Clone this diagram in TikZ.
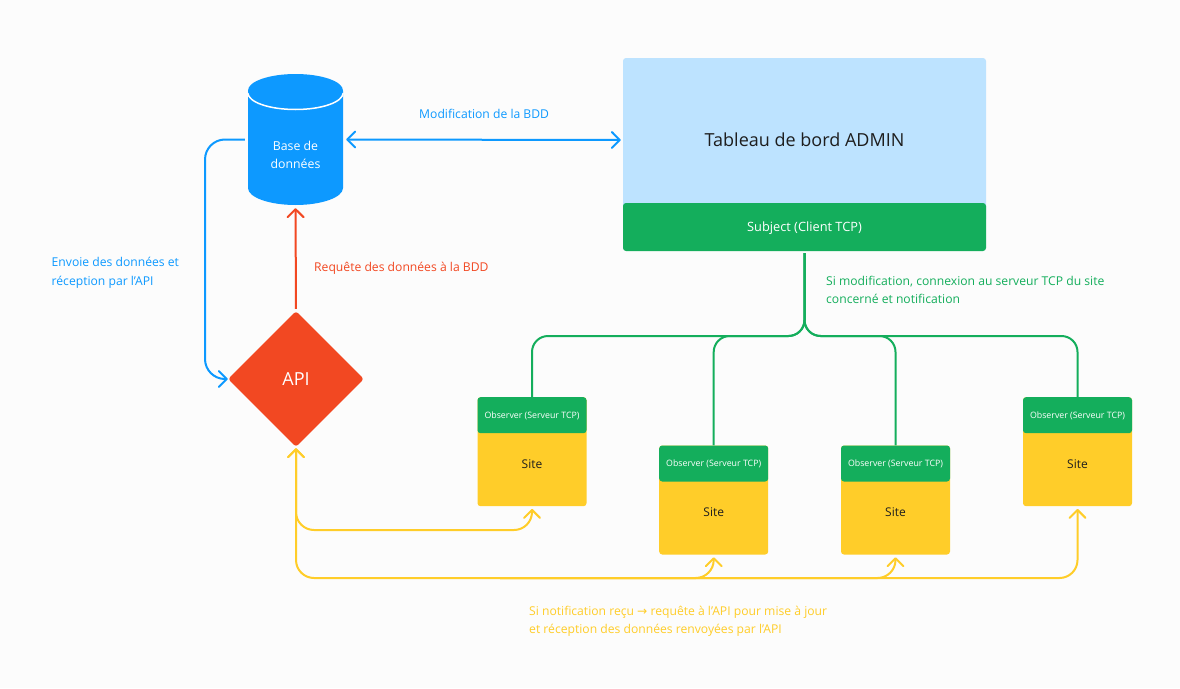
\documentclass[tikz,border=0pt]{standalone}
\usepackage{fontspec}
\setmainfont{Open Sans}
\newfontfamily\arrowfont{DejaVu Sans}
\usepackage{xcolor}
\usetikzlibrary{positioning, arrows.meta, shapes.geometric}
\definecolor{figblue}{HTML}{0D99FF}
\definecolor{figgreen}{HTML}{14AE5C}
\definecolor{figred}{HTML}{F24822}
\definecolor{figyellow}{HTML}{FFCD29}
\definecolor{figpale}{HTML}{BDE3FF}
\definecolor{figdark}{HTML}{1E1E1E}
\definecolor{figback}{HTML}{FCFCFC}
\tikzset{
  barb/.tip={Straight Barb[length=8pt, width=16pt, round]},
  link/.style={line width=2pt, rounded corners=#1},
  link/.default=16pt,
  note/.style={anchor=west, align=left, inner sep=0pt, font=\fontsize{12.15}{18.5}\selectfont},
  box/.style={inner sep=0pt, rounded corners=3pt},
  sitebox/.style={box, anchor=north, fill=figyellow, minimum width=109pt, minimum height=109pt},
  obsbox/.style={box, anchor=north, fill=figgreen, text=white, minimum width=109pt, minimum height=36pt, text height=6pt, text depth=0pt, font=\fontsize{8.8}{10}\selectfont},
  sitetxt/.style={inner sep=0pt, text=figdark, font=\fontsize{12}{14}\selectfont},
}
\begin{document}
\begin{tikzpicture}[x=1pt, y=-1pt]
    \useasboundingbox (0,0) rectangle (1180,688);
    \fill[figback] (0,0) rectangle (1180,688);
    % base de donnees
    \fill[figblue] (248,91) -- (248,188) arc[start angle=180, end angle=360, x radius=47.5pt, y radius=17pt] -- (343,91) -- cycle;
    \draw[white, line width=1.5pt] (248,93) arc[start angle=180, end angle=360, x radius=47.5pt, y radius=16.5pt];
    \fill[figblue] (295.5,90.5) ellipse [x radius=47.5pt, y radius=16.5pt];
    \node[inner sep=0pt, minimum width=95pt, minimum height=131pt] (bdd) at (295.5,139.5) {};
    \node[align=center, inner sep=0pt, text=white, font=\fontsize{12.3}{18.5}\selectfont] (bddtxt) at (295.5,155) {Base de\\données};
    % tableau de bord
    \node[box, fill=figpale, text=figdark, minimum width=363pt, minimum height=164pt, font=\fontsize{18}{22}\selectfont] (admin) at (804.5,140) {Tableau de bord ADMIN};
    \node[box, fill=figgreen, text=white, minimum width=363pt, minimum height=48pt, text height=8.6pt, text depth=0pt, font=\fontsize{12.8}{14}\selectfont] (subject) at (804.5,227) {Subject (Client TCP)};
    % api
    \node[diamond, aspect=1, inner sep=0pt, rounded corners=3pt, fill=figred, text=white, minimum width=136pt, minimum height=136pt, font=\fontsize{18}{22}\selectfont] (api) at (296,379) {API};
    % sites
    \foreach \n/\x/\y in {1/532/397, 2/713.7/445.3, 3/895.5/445.3, 4/1077.5/397} {
        \node[sitebox] (site\n) at (\x,\y) {};
        \node[obsbox] (obs\n) at (\x,\y) {Observer (Serveur TCP)};
        \node[sitetxt, below=26pt of obs\n.south] (lbl\n) {Site};
    }
    \coordinate (lbus) at (205,250);
    \coordinate (gbus) at (804.5,336);
    \coordinate (ybus1) at (296,530); \coordinate (ybus2) at (296,578); \coordinate (ybus3) at (500,578);
    % liaisons
    \draw[figblue, link=20pt, -{barb}, shorten <=3pt] (bdd.west) -| (lbus) |- (api.west);
    \draw[figblue, line width=2pt, {barb}-{barb}, shorten <=3pt, shorten >=2pt] (bdd.east) -- (admin.west);
    \draw[figred, line width=2pt, -{barb}, shorten <=2pt, shorten >=3pt] (api.north) -- (bdd.south);
    \foreach \n in {1,2,3,4} \draw[figgreen, link, shorten <=2pt] (subject.south) -- (gbus) -| (obs\n.north);
    \draw[figyellow, link=18pt, {barb}-{barb}, shorten <=1pt, shorten >=2.5pt] (api.south) -- (ybus1) -| (site1.south);
    \draw[figyellow, link=18pt, {barb}-{barb}, shorten <=1pt, shorten >=2.5pt] (api.south) -- (ybus2) -| (site4.south);
    \foreach \n in {2,3} \draw[figyellow, link=18pt, -{barb}, shorten >=2.5pt] (ybus3) -| (site\n.south);
    % textes
    \node[note, text=figblue] (tmod) at (419,114) {Modification de la BDD};
    \node[note, text=figblue] (tenv) at (51.5,273) {Envoie des données et\\réception par l’API};
    \node[note, text=figred] (treq) at (314,268.5) {Requête des données à la BDD};
    \node[note, text=figgreen] (tcon) at (826,290) {Si modification, connexion au serveur TCP du site\\concerné et notification};
    \node[note, text=figyellow] (tnot) at (529,621.5) {Si notification reçu {\arrowfont →} requête à l’API pour mise à jour\\et réception des données renvoyées par l’API};
\end{tikzpicture}
\end{document}
